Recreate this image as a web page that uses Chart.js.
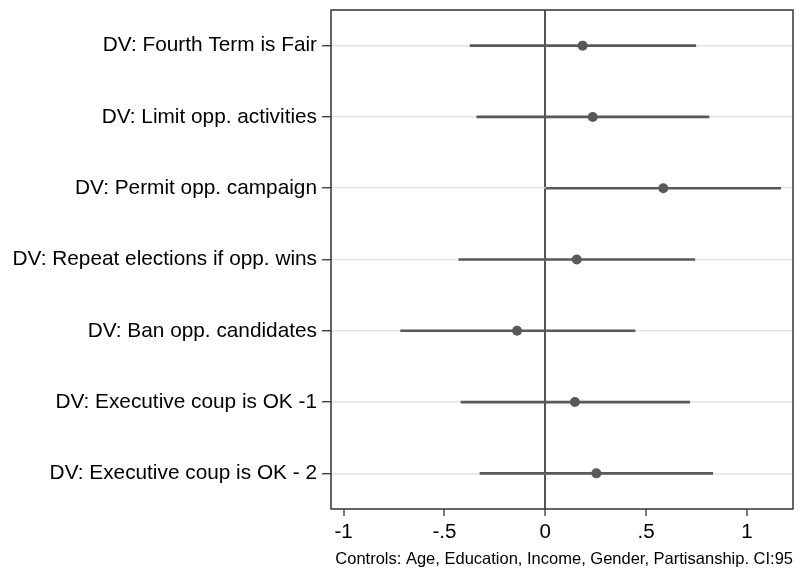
<!DOCTYPE html>
<html>
<head>
<meta charset="utf-8">
<title>Coefficient plot</title>
<script src="https://cdn.jsdelivr.net/npm/chart.js@4/dist/chart.umd.min.js"></script>
<style>
  html, body { margin: 0; padding: 0; background: #ffffff; }
  #wrap { width: 801px; height: 569px; }
</style>
</head>
<body>
<div id="wrap"><canvas id="coef" width="801" height="569"></canvas></div>
<script>
// Outcome (dependent variable) labels, top to bottom
const categories = [
  "DV: Fourth Term is Fair",
  "DV: Limit opp. activities",
  "DV: Permit opp. campaign",
  "DV: Repeat elections if opp. wins",
  "DV: Ban opp. candidates",
  "DV: Executive coup is OK -1",
  "DV: Executive coup is OK - 2"
];

// Point estimates and 95% confidence bounds
const estimates = [0.185, 0.235, 0.585, 0.156, -0.140, 0.147, 0.253];
const ciLower   = [-0.373, -0.340, 0.003, -0.429, -0.717, -0.418, -0.324];
const ciUpper   = [0.746, 0.812, 1.167, 0.741, 0.445, 0.716, 0.830];

// Horizontal axis ticks
const xTicks = [-1, -0.5, 0, 0.5, 1];

const footnote = "Controls: Age, Education, Income, Gender, Partisanship. CI:95";

const FONT = "'Liberation Sans', Arial, Helvetica, sans-serif";
const MARK = "#595959";

// Stata-style tick label: drop the leading zero (".5", "-.5")
function stataNum(v) {
  if (v === 0) return "0";
  let s = String(v);
  return s.replace(/^(-?)0\./, "$1.");
}

// Outline around the whole plot region
const frame = {
  id: "frame",
  afterDatasetsDraw(chart) {
    const a = chart.chartArea;
    const ctx = chart.ctx;
    ctx.save();
    ctx.strokeStyle = "#333333";
    ctx.lineWidth = 1.5;
    ctx.strokeRect(a.left, a.top, a.right - a.left, a.bottom - a.top);
    ctx.restore();
  }
};

new Chart(document.getElementById("coef"), {
  type: "bar",
  data: {
    labels: categories,
    datasets: [
      {
        type: "line",
        label: "Estimate",
        data: estimates,
        showLine: false,
        pointRadius: 5,
        pointHoverRadius: 5,
        pointBackgroundColor: MARK,
        pointBorderColor: MARK,
        pointBorderWidth: 0
      },
      {
        type: "bar",
        label: "95% CI",
        data: ciLower.map((lo, i) => [lo, ciUpper[i]]),
        backgroundColor: MARK,
        borderWidth: 0,
        barThickness: 2
      }
    ]
  },
  options: {
    indexAxis: "y",
    responsive: false,
    animation: false,
    devicePixelRatio: 1,
    layout: { padding: { top: 10, right: 8, bottom: 0, left: 0 } },
    plugins: {
      legend: { display: false },
      tooltip: { enabled: false }
    },
    scales: {
      x: {
        type: "linear",
        position: "bottom",
        min: -1.0625,
        max: 1.228,
        afterBuildTicks(scale) {
          scale.ticks = xTicks.map(v => ({ value: v }));
        },
        afterFit(scale) {
          scale.height = 60;
          scale.paddingLeft = 0;
          scale.paddingRight = 0;
        },
        border: { display: false },
        grid: {
          color: ctx => (ctx.tick && ctx.tick.value === 0) ? "#555555" : "rgba(0,0,0,0)",
          lineWidth: 2,
          drawTicks: true,
          tickColor: "#222222",
          tickLength: 7,
          tickWidth: 1.2
        },
        ticks: {
          color: "#000000",
          padding: 4,
          maxRotation: 0,
          font: { family: FONT, size: 20.5 },
          callback: v => stataNum(v)
        },
        title: {
          display: true,
          text: footnote,
          align: "end",
          color: "#000000",
          padding: { top: 0, bottom: 0 },
          font: { family: FONT, size: 16.5, lineHeight: 1.1 }
        }
      },
      y: {
        type: "category",
        offset: true,
        afterFit(scale) {
          scale.width = 331;
          scale.paddingTop = 0;
          scale.paddingBottom = 0;
        },
        border: { display: false },
        grid: {
          offset: false,
          color: "#e4e4e4",
          lineWidth: 1.5,
          tickColor: "#222222",
          tickLength: 9,
          tickWidth: 1.2
        },
        ticks: {
          color: "#000000",
          padding: 5,
          font: { family: FONT, size: 20.8 }
        }
      }
    }
  },
  plugins: [frame]
});
</script>
</body>
</html>
